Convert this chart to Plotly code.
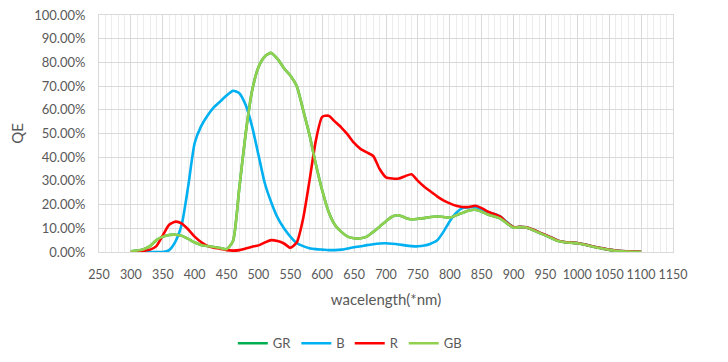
import numpy as np
import plotly.graph_objects as go

wavelength = list(range(300, 1101, 10))

b_qe = [0, 0, 0, 0, 0, 0, 0.8, 4.5, 12, 28,
        46, 53, 57.5, 61, 63.5, 66, 68, 67, 62, 53,
        41, 29, 21, 14.5, 10, 6.5, 3.8, 2.5, 1.6, 1.2,
        1.0, 0.8, 0.8, 1.0, 1.5, 2.0, 2.4, 2.9, 3.3, 3.6,
        3.7, 3.5, 3.2, 2.8, 2.5, 2.4, 2.7, 3.5, 4.8, 8.5,
        13, 16.5, 18.5, 18.8, 19, 18, 16.8, 16, 14.8, 12.5,
        10.5, 10.6, 10.4, 9.5, 8.3, 7.2, 6, 4.8, 4.2, 4,
        3.8, 3.3, 2.6, 2, 1.5, 1, 0.6, 0.4, 0.3, 0.2, 0.2]

r_qe = [0, 0.2, 0.5, 1, 2.5, 7, 11.5, 12.8, 12, 9.5,
        6.5, 4.2, 2.6, 1.8, 1.4, 0.8, 0.6, 0.8, 1.5, 2.2,
        2.8, 4, 5, 4.6, 3.6, 1.8, 4, 14, 30, 47,
        57, 57.5, 55, 52.5, 49.5, 46, 43.5, 42, 40.5, 35,
        31.5, 31, 31, 32, 32.8, 30, 27.5, 25.5, 23.5, 21.8,
        20.5, 19.5, 19, 19, 19.5, 18.5, 17, 16, 14.8, 12.3,
        10.5, 10.6, 10.4, 9.5, 8.3, 7.2, 6, 4.8, 4.2, 4,
        3.8, 3.3, 2.6, 2, 1.5, 1, 0.6, 0.4, 0.3, 0.2, 0.2]

gb_qe = [0.3, 0.6, 1.2, 2.5, 5, 6.5, 7.2, 7.3, 6.8, 5.5,
         4, 3, 2.5, 2.1, 1.7, 1.2, 4.5, 27, 50, 68,
         78, 82.5, 84, 81.5, 77.5, 74.5, 70, 60, 49.5, 37,
         26, 17, 11.4, 8.5, 6.5, 5.8, 5.8, 6.5, 8.5, 10.7,
         13, 15, 15.5, 14.5, 13.8, 14, 14.3, 14.8, 15, 14.8,
         14.5, 15.5, 16.5, 17.5, 17.8, 17, 15.8, 15, 14, 12,
         10.3, 10.5, 10.3, 9.3, 8.1, 7, 5.8, 4.6, 4.1, 3.9,
         3.7, 3.2, 2.5, 1.9, 1.4, 0.9, 0.5, 0.3, 0.2, 0.1, 0.1]

gr_qe = list(gb_qe)

series = [("GR", gr_qe, "#00b050"), ("B", b_qe, "#00b0f0"),
          ("R", r_qe, "#ff0000"), ("GB", gb_qe, "#92d050")]

x_ticks = list(range(250, 1151, 50))
y_ticks = [i / 10 for i in range(0, 11)]

fig = go.Figure()
for name, vals, color in series:
    fig.add_trace(go.Scatter(
        x=wavelength, y=np.array(vals) / 100.0, name=name, mode="lines",
        line=dict(color=color, width=2.6, shape="spline", smoothing=0.6),
    ))

font_color = "#595959"
fig.update_layout(
    width=720, height=354,
    margin=dict(l=91, r=55, t=7, b=110, autoexpand=False),
    paper_bgcolor="white", plot_bgcolor="white",
    font=dict(family="Lato, Open Sans, sans-serif", size=13, color=font_color),
    showlegend=True,
    legend=dict(orientation="h", x=0.437, xanchor="center", y=-0.385, yanchor="middle",
                font=dict(size=13, color=font_color), itemwidth=30,
                traceorder="normal"),
    xaxis=dict(
        range=[250, 1150], tickmode="array", tickvals=x_ticks,
        ticktext=[str(v) for v in x_ticks], tickangle=0,
        tickfont=dict(size=12.5, color=font_color),
        showgrid=True, gridcolor="#d9d9d9", gridwidth=1,
        minor=dict(dtick=10, showgrid=True, gridcolor="#ececec", gridwidth=1),
        showline=True, linecolor="#d9d9d9", linewidth=1, mirror=True,
        zeroline=False, ticks="", ticklabelstandoff=11, automargin=False,
        ticklabeloverflow="allow",
        title=dict(text="wacelength(*nm)", font=dict(size=15, color=font_color), standoff=13),
    ),
    yaxis=dict(
        range=[0, 1.0], tickmode="array", tickvals=y_ticks,
        tickformat=".2%",
        showgrid=True, gridcolor="#d9d9d9", gridwidth=1,
        showline=True, linecolor="#d9d9d9", linewidth=1, mirror=True,
        zeroline=False, ticks="", ticklabelstandoff=10, automargin=False,
        ticklabeloverflow="allow",
        title=dict(text="QE", font=dict(size=15, color=font_color), standoff=13),
    ),
)

fig.write_html("out.html")
